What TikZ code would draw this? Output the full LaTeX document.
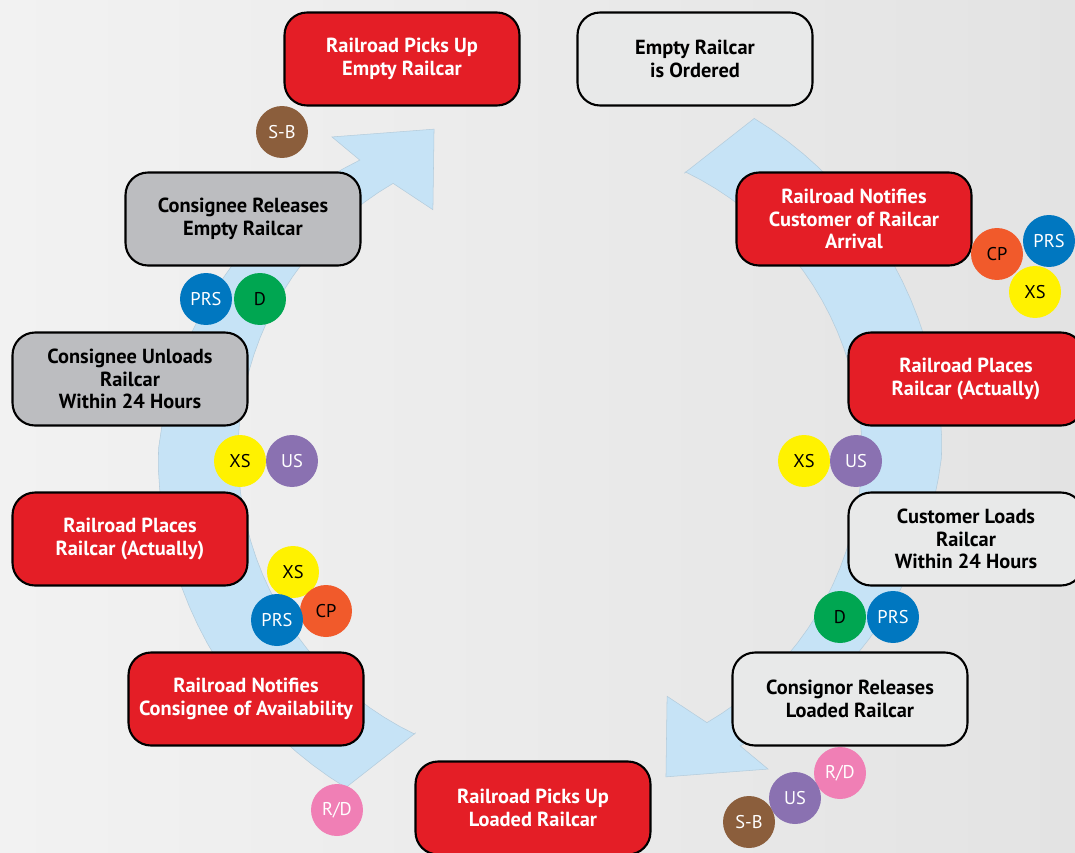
\documentclass[tikz,border=0pt]{standalone}
\usepackage{fontspec}
\setmainfont{PT Sans}
\usepackage{tikz}

\definecolor{railred}{HTML}{E41E26}
\definecolor{boxlight}{HTML}{E8E9E9}
\definecolor{boxgrey}{HTML}{BCBDC0}
\definecolor{flowblue}{HTML}{C6E3F6}
\definecolor{flowedge}{HTML}{B4CCDC}
\definecolor{bgleft}{HTML}{F2F2F2}
\definecolor{bgright}{HTML}{E3E3E3}
\definecolor{tagbrown}{HTML}{8B5E3C}
\definecolor{tagblue}{HTML}{0077C0}
\definecolor{taggreen}{HTML}{00A651}
\definecolor{tagyellow}{HTML}{FFF200}
\definecolor{tagpurple}{HTML}{8A71B1}
\definecolor{tagorange}{HTML}{F15A2B}
\definecolor{tagpink}{HTML}{F07FB5}

\begin{document}
\begin{tikzpicture}[x=0.02cm,y=0.02cm,
	stage/.style={draw=black,line width=1.2pt,rounded corners=0.45cm,minimum width=4.7cm,minimum height=1.86cm,inner sep=0pt,align=center,font=\fontsize{11.6}{13}\selectfont\bfseries},
	redstage/.style={stage,fill=railred,text=white},
	lightstage/.style={stage,fill=boxlight},
	greystage/.style={stage,fill=boxgrey},
	tag/.style={circle,minimum size=1.04cm,inner sep=0pt,font=\fontsize{10.5}{12}\selectfont},
	sbtag/.style={tag,fill=tagbrown,text=white},
	prstag/.style={tag,fill=tagblue,text=white},
	dtag/.style={tag,fill=taggreen},
	xstag/.style={tag,fill=tagyellow},
	ustag/.style={tag,fill=tagpurple,text=white},
	cptag/.style={tag,fill=tagorange},
	rdtag/.style={tag,fill=tagpink,text=white}]
	
	\useasboundingbox (0,0) rectangle (1075,-852);
	\clip (0,0) rectangle (1075,-852);
	\shade[left color=bgleft,right color=bgright] (0,0) rectangle (1075,-852);
	
	% Draw the two curved flow arrows, one is the other turned round
	\coordinate (hub) at (550,-453);
	\foreach \turn in {0,180}{
		\begin{scope}[shift={(hub)},rotate=\turn]
			\filldraw[fill=flowblue,draw=flowedge,line width=0.3pt]
			(64.3:311) -- (58.6:392)
			-- plot[domain=58.6:-57,samples=40] (\x:{392+0.75*min(\x,0)})
			-- (-55.4:384) -- (-70.3:344) -- (-64.3:270) -- (-59.8:312)
			-- plot[domain=-59.8:64.3,samples=40] (\x:312) -- cycle;
		\end{scope}
	}
	
	% Draw stages
	\node[redstage] (pickempty) at (402,-59) {Railroad Picks Up\\Empty Railcar};
	\node[lightstage] (ordered) at (695,-59) {Empty Railcar\\is Ordered};
	\node[redstage] (notifycust) at (854,-219) {Railroad Notifies\\Customer of Railcar\\Arrival};
	\node[redstage] (placeR) at (966,-379) {Railroad Places\\Railcar (Actually)};
	\node[lightstage] (loads) at (966,-539) {Customer Loads\\Railcar\\Within 24 Hours};
	\node[lightstage] (consignor) at (850,-699) {Consignor Releases\\Loaded Railcar};
	\node[redstage] (pickloaded) at (533,-808) {Railroad Picks Up\\Loaded Railcar};
	\node[redstage] (notifycons) at (246,-699) {Railroad Notifies\\Consignee of Availability};
	\node[redstage] (placeL) at (130,-539) {Railroad Places\\Railcar (Actually)};
	\node[greystage] (unloads) at (130,-379) {Consignee Unloads\\Railcar\\Within 24 Hours};
	\node[greystage] (releases) at (243,-219) {Consignee Releases\\Empty Railcar};
	
	% Draw tags, left side
	\node[sbtag] (sbA) at (282,-132) {S-B};
	\node[prstag] (prsA) at (206,-299) {PRS};
	\node[dtag] (dA) at (260,-299) {D};
	\node[xstag] (xsA) at (240,-461) {XS};
	\node[ustag] (usA) at (292,-461) {US};
	\node[xstag] (xsB) at (293,-572) {XS};
	\node[cptag] (cpA) at (326,-611) {CP};
	\node[prstag] (prsB) at (277,-620) {PRS};
	\node[rdtag] (rdA) at (337,-810) {R/D};
	
	% Draw tags, right side
	\node[cptag] (cpB) at (997,-254) {CP};
	\node[prstag] (prsC) at (1049,-241) {PRS};
	\node[xstag] (xsC) at (1035,-292) {XS};
	\node[xstag] (xsD) at (804,-461) {XS};
	\node[ustag] (usB) at (856,-461) {US};
	\node[dtag] (dB) at (840,-617) {D};
	\node[prstag] (prsD) at (893,-617) {PRS};
	\node[rdtag] (rdB) at (840,-773) {R/D};
	\node[ustag] (usC) at (795,-798) {US};
	\node[sbtag] (sbB) at (749,-822) {S-B};
	
\end{tikzpicture}
\end{document}
